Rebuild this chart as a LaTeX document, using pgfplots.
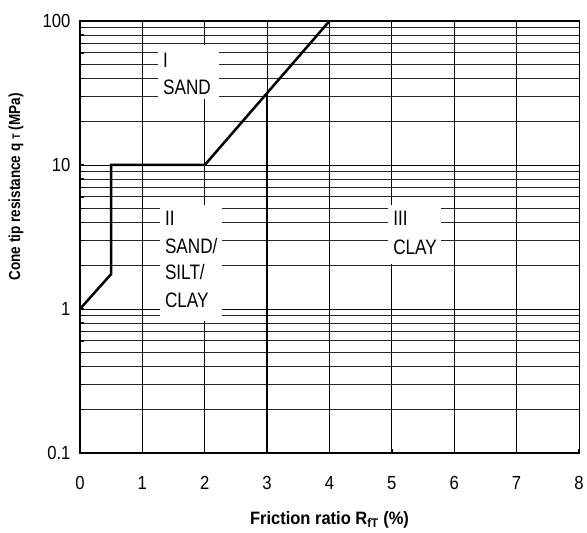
\documentclass[border=0pt]{standalone}
\usepackage{graphicx}
\usepackage{pgfplots}
\pgfplotsset{compat=1.18}
\usepackage{fontspec}
\setmainfont{Liberation Sans}
\newcommand{\boxtext}[1]{\scalebox{0.82}[1]{\fontsize{21}{25}\selectfont #1}}
\newcommand{\tl}[1]{\scalebox{0.88}[1]{#1}}
\begin{document}
\begin{tikzpicture}
\begin{axis}[
  scale only axis,
  width=499bp, height=432bp,
  xmin=0, xmax=8,
  ymode=log, ymin=0.1, ymax=100,
  xtick={0,1,...,8},
  xticklabels={\tl{0},\tl{1},\tl{2},\tl{3},\tl{4},\tl{5},\tl{6},\tl{7},\tl{8}},
  ytick={0.1,1,10,100},
  yticklabels={\tl{0.1},\tl{1},\tl{10},\tl{100}},
  minor y tick num=9,
  grid=both,
  major grid style={black, line width=0.9bp},
  minor grid style={black!85, line width=0.9bp},
  axis line style={black, line width=1bp},
  tick style={black, line width=1.5bp},
  tick align=inside,
  tick pos=left,
  major tick length=4bp,
  minor tick length=4bp,
  tick label style={font=\fontsize{19}{22}\selectfont},
  xticklabel style={yshift=-20bp},
  yticklabel style={xshift=-6bp},
  /pgf/number format/assume math mode=true,
  xlabel={\scalebox{0.92}[1]{\fontsize{18}{21}\selectfont\bfseries Friction ratio R\textsubscript{fT} (\%)}},
  ylabel={\scalebox{0.85}[1]{\fontsize{16}{19}\selectfont\bfseries Cone tip resistance q\ {\fontsize{11}{12}\selectfont T} (MPa)}},
  xlabel style={at={(axis description cs:0.5,-0.155)}, anchor=center},
  ylabel style={at={(axis description cs:-0.128,0.616)}, anchor=center},
  clip=false,
]
% white label boxes
\fill[white] (axis cs:1.25,28.7) rectangle (axis cs:2.23,68.1);
\fill[white] (axis cs:1.28,0.826) rectangle (axis cs:2.28,5.27);
\fill[white] (axis cs:4.94,2.05) rectangle (axis cs:5.79,5.27);
\begin{scope}[every node/.style={anchor=west, inner sep=0pt}]
\node at (axis cs:1.33,53.6) {\boxtext{I}};
\node at (axis cs:1.33,34.8) {\boxtext{SAND}};
\node at (axis cs:1.36,4.29) {\boxtext{II}};
\node at (axis cs:1.36,2.75) {\boxtext{SAND/}};
\node at (axis cs:1.36,1.80) {\boxtext{SILT/}};
\node at (axis cs:1.36,1.15) {\boxtext{CLAY}};
\node at (axis cs:5.02,4.29) {\boxtext{III}};
\node at (axis cs:5.02,2.69) {\boxtext{CLAY}};
\end{scope}
\addplot[black, line width=2.5bp] coordinates {(0,1) (0.5,1.75) (0.5,10) (2,10) (4,100)};
\addplot[black, line width=2.5bp] coordinates {(3,0.1) (3,31.62)};
\draw[black, line width=2.6bp] (rel axis cs:0,1) -- (rel axis cs:0,0) -- (rel axis cs:1,0);
\end{axis}
\pgfresetboundingbox
\path[use as bounding box] (-80bp,-80bp) rectangle (507bp,453bp);
\end{tikzpicture}
\end{document}
